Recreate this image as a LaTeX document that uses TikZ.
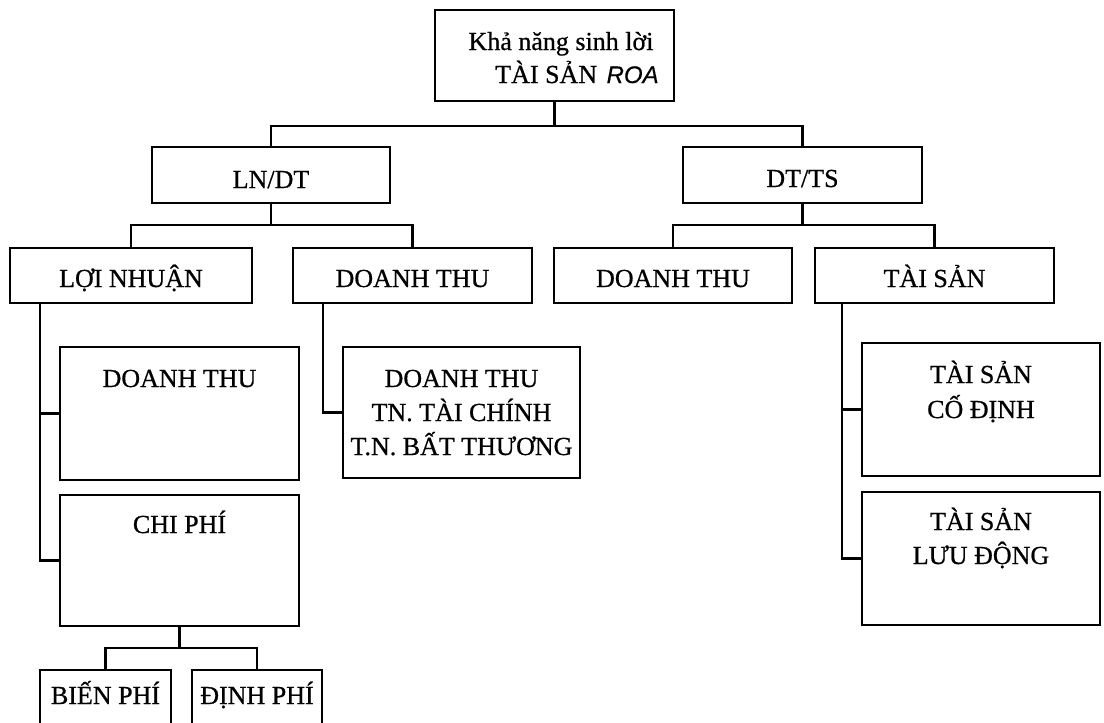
\documentclass[tikz,border=0pt]{standalone}
\usepackage{fontspec}
\setmainfont{Liberation Serif}[FakeBold=0.7]
\newfontfamily\handfont{Liberation Sans}[FakeBold=0.4]
\usetikzlibrary{calc}
\begin{document}
\begin{tikzpicture}[x=0.75pt,y=-0.75pt,
  box/.style={draw, line width=1.6pt, inner sep=0pt, outer sep=0pt},
  conn/.style={line width=1.6pt},
  lbl/.style={inner sep=0pt, anchor=base, font=\fontsize{19.5}{23}\selectfont},
  hand/.style={inner sep=0pt, anchor=base west, font=\handfont\itshape\fontsize{18}{22}\selectfont}]
\clip (0,0) rectangle (1104,722);
\fill[white] (0,0) rectangle (1104,722);
% boxes
\node[box, minimum width=179.25pt, minimum height=68.25pt] (top) at (554.5,55.5) {};
\node[box, minimum width=178.5pt, minimum height=42pt] (lndt) at (271,175) {};
\node[box, minimum width=179.25pt, minimum height=42pt] (dtts) at (802.5,175) {};
\node[box, minimum width=181.5pt, minimum height=41.25pt] (ln) at (131,275.5) {};
\node[box, minimum width=179.25pt, minimum height=41.25pt] (dt1) at (412.5,275.5) {};
\node[box, minimum width=178.5pt, minimum height=41.25pt] (dt2) at (673,275.5) {};
\node[box, minimum width=179.25pt, minimum height=41.25pt] (ts) at (934.5,275.5) {};
\node[box, minimum width=179.25pt, minimum height=99.75pt] (dtin) at (179.5,413.5) {};
\node[box, minimum width=179.25pt, minimum height=98.25pt] (cp) at (179.5,560.5) {};
\node[box, minimum width=177.75pt, minimum height=98.25pt] (dttn) at (461.5,412.5) {};
\node[box, minimum width=178.5pt, minimum height=99.75pt] (tscd) at (981,409.5) {};
\node[box, minimum width=178.5pt, minimum height=99.75pt] (tsld) at (981,558.5) {};
\node[box, minimum width=98.25pt, minimum height=60pt] (bp) at (105.5,710) {};
\node[box, minimum width=97.5pt, minimum height=60pt] (dp) at (257,710) {};
% texts
\node[lbl] (t1) at (561,50) {Khả năng sinh lời};
\node[lbl, anchor=base west] (t2) at (495,83) {TÀI SẢN};
\node[hand] (t3) at ($(t2.base east)+(9,0)$) {ROA};
\node[lbl] (l1) at (271,188) {LN/DT};
\node[lbl] (l2) at (802.5,187) {DT/TS};
\node[lbl] (l3) at (131,287) {LỢI NHUẬN};
\node[lbl] (l4) at (412.5,287) {DOANH THU};
\node[lbl] (l5) at (673,287) {DOANH THU};
\node[lbl] (l6) at (934.5,287) {TÀI SẢN};
\node[lbl] (l7) at (179.5,387) {DOANH THU};
\node[lbl] (l8) at (179.5,533) {CHI PHÍ};
\node[lbl] (l9) at (461.5,387) {DOANH THU};
\node[lbl] (l10) at (461.5,421) {TN. TÀI CHÍNH};
\node[lbl] (l11) at (461.5,455) {T.N. BẤT THƯƠNG};
\node[lbl] (l12) at (981,383) {TÀI SẢN};
\node[lbl] (l13) at (981,418) {CỐ ĐỊNH};
\node[lbl] (l14) at (981,530) {TÀI SẢN};
\node[lbl] (l15) at (981,564) {LƯU ĐỘNG};
\node[lbl] (l16) at (105.5,704) {BIẾN PHÍ};
\node[lbl] (l17) at (257,704) {ĐỊNH PHÍ};
% connectors
\coordinate (y1) at (0,126);
\coordinate (y2) at (0,225);
\coordinate (y3) at (0,648);
\draw[conn] (top.south) -- (top.south |- y1);
\draw[conn] (lndt.north) |- (dtts.north |- y1) -- (dtts.north);
\draw[conn] (lndt.south) -- (lndt.south |- y2);
\draw[conn] (ln.north) |- (dt1.north |- y2) -- (dt1.north);
\draw[conn] (dtts.south) -- (dtts.south |- y2);
\draw[conn] (dt2.north) |- (ts.north |- y2) -- (ts.north);
\coordinate (lnv) at ($(ln.south west)+(30,0)$);
\draw[conn] (lnv) |- (dtin.west);
\draw[conn] (lnv) |- (cp.west);
\coordinate (dtv) at ($(dt1.south west)+(30,0)$);
\draw[conn] (dtv) |- (dttn.west);
\coordinate (tsv) at ($(ts.south west)+(27,0)$);
\draw[conn] (tsv) |- (tscd.west);
\draw[conn] (tsv) |- (tsld.west);
\draw[conn] (cp.south) -- (cp.south |- y3);
\draw[conn] (bp.north) |- (dp.north |- y3) -- (dp.north);
\end{tikzpicture}
\end{document}
